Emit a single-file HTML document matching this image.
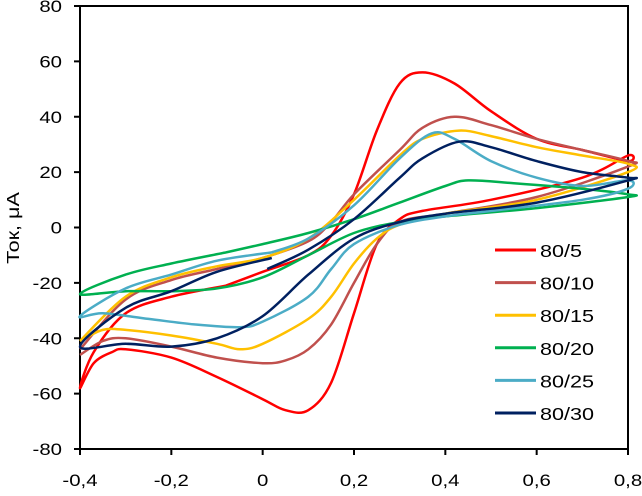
<!DOCTYPE html>
<html><head><meta charset="utf-8"><style>
body{margin:0;background:#fff}
svg text{font-family:"Liberation Sans",Arial,sans-serif;font-size:17px;fill:#000}
</style></head><body>
<svg id="chart" width="642" height="491" viewBox="0 0 642 491">
<rect x="80" y="6" width="548" height="443" fill="none" stroke="#000" stroke-width="2"/>
<g id="axes"></g>
<g id="series"></g>
<g id="legend"></g>
<text transform="translate(19,228) rotate(-90) scale(1.2,1)" text-anchor="middle" style="font-size:18px">Ток, μA</text>
</svg>
<script>
const xTicks=[-0.4,-0.2,0,0.2,0.4,0.6,0.8];
const xTickLabels=["-0,4","-0,2","0","0,2","0,4","0,6","0,8"];
const yTicks=[80,60,40,20,0,-20,-40,-60,-80];
const seriesNames=["80/5","80/10","80/15","80/20","80/25","80/30"];
const seriesColors=["#ff0000","#c0504d","#ffc000","#00b050","#4bacc6","#002060"];
const s805=[[-0.08,-21],[-0.2,-25],[-0.3,-31],[-0.37,-45],[-0.4,-58],[-0.37,-49],[-0.33,-45],[-0.3,-44],[-0.2,-47],[-0.1,-54],[0,-62],[0.05,-66],[0.1,-66],[0.15,-56],[0.2,-31],[0.25,-6],[0.3,3],[0.35,6],[0.5,10],[0.7,18],[0.8,26],[0.8,24],[0.7,28],[0.6,32],[0.5,42],[0.42,52],[0.35,56],[0.3,52],[0.25,35],[0.2,12],[0.15,-3],[0.1,-10],[0,-16],[-0.08,-21]];
const s8010=[[-0.4,-46],[-0.35,-41],[-0.3,-40],[-0.2,-43],[-0.1,-47],[0,-49],[0.05,-48],[0.1,-44],[0.15,-35],[0.2,-20],[0.25,-6],[0.3,2],[0.4,5],[0.6,11],[0.8,22],[0.8,24],[0.7,28],[0.6,32],[0.5,37],[0.42,40],[0.35,36],[0.3,28],[0.2,12],[0.15,2],[0.1,-5],[0,-11],[-0.1,-15],[-0.2,-19],[-0.3,-26],[-0.4,-44]];
const s8015=[[-0.4,-41],[-0.35,-37],[-0.3,-37],[-0.2,-39],[-0.1,-42],[-0.05,-44],[0,-42],[0.1,-33],[0.15,-25],[0.2,-13],[0.25,-4],[0.3,1],[0.4,5],[0.6,10],[0.8,20],[0.8,23],[0.7,26],[0.6,29],[0.5,33],[0.43,35],[0.35,32],[0.3,26],[0.2,10],[0.1,-4],[0,-11],[-0.1,-14],[-0.2,-18],[-0.3,-25],[-0.4,-41]];
const s8020=[[-0.08,-9],[-0.2,-13],[-0.3,-17],[-0.4,-24],[-0.3,-23],[-0.2,-23],[-0.1,-22],[0,-18],[0.1,-10],[0.2,-2],[0.3,2],[0.4,4],[0.6,7],[0.8,11],[0.8,12],[0.7,14],[0.55,16],[0.45,17],[0.4,15],[0.3,9],[0.2,3],[0.1,-2],[0,-6],[-0.08,-9]];
const s8025=[[0.02,-9],[-0.1,-12],[-0.2,-17],[-0.3,-22],[-0.4,-32],[-0.35,-31],[-0.25,-33],[-0.15,-35],[-0.05,-36],[0,-34],[0.1,-25],[0.15,-15],[0.2,-6],[0.3,1],[0.4,4],[0.5,6],[0.7,10],[0.8,14],[0.8,17],[0.7,15],[0.6,18],[0.5,24],[0.42,32],[0.37,34],[0.3,25],[0.2,8],[0.1,-4],[0.02,-9]];
const s8030=[[0.02,-11],[-0.1,-16],[-0.2,-23],[-0.3,-29],[-0.4,-43],[-0.3,-42],[-0.2,-43],[-0.1,-40],[0,-32],[0.1,-17],[0.2,-4],[0.3,2],[0.4,5],[0.6,9],[0.8,17],[0.8,18],[0.7,20],[0.6,24],[0.5,29],[0.43,31],[0.35,25],[0.3,18],[0.2,3],[0.1,-8],[0.01,-15]];
const allSeries=[s805,s8010,s8015,s8020,s8025,s8030];

const X0=80,X1=628,Y0=449,Y1=6;
function xs(v){return X0+(v+0.4)/1.2*(X1-X0);}
function ys(v){return Y0-(v+80)/160*(Y0-Y1);}
const NS="http://www.w3.org/2000/svg";
const axes=document.getElementById('axes');
function mk(tag,attrs,parent){const e=document.createElementNS(NS,tag);for(const k in attrs)e.setAttribute(k,attrs[k]);parent.appendChild(e);return e;}
function stretchText(el,x,y){el.setAttribute('transform','translate('+x+','+y+') scale(1.2,1)');}
xTicks.forEach((t,i)=>{
  const l=mk('line',{x1:xs(t),x2:xs(t),y1:Y0,y2:Y0+6,stroke:'#000','stroke-width':2},axes);
  
  
  const tx=mk('text',{x:0,y:0,'text-anchor':'middle'},axes);
  stretchText(tx,xs(t),486);
  tx.textContent=xTickLabels[i];
  
  
});
yTicks.forEach(t=>{
  const l=mk('line',{x1:X0-6,x2:X0,y1:ys(t),y2:ys(t),stroke:'#000','stroke-width':2},axes);
  
  
  const tx=mk('text',{x:0,y:0,'text-anchor':'end'},axes);
  stretchText(tx,62,ys(t)+6);
  tx.textContent=String(t);
  
  
});
function smooth(pts){
  const p=pts.map(d=>[xs(d[0]),ys(d[1])]);
  let s='M'+p[0][0].toFixed(1)+','+p[0][1].toFixed(1);
  for(let i=0;i<p.length-1;i++){
    const a=p[Math.max(i-1,0)],b=p[i],c=p[i+1],d=p[Math.min(i+2,p.length-1)];
    const c1=[b[0]+(c[0]-a[0])/6,b[1]+(c[1]-a[1])/6],c2=[c[0]-(d[0]-b[0])/6,c[1]-(d[1]-b[1])/6];
    s+=' C'+c1.map(v=>v.toFixed(1))+' '+c2.map(v=>v.toFixed(1))+' '+c.map(v=>v.toFixed(1));
  }
  return s;
}
const sg=document.getElementById('series');
allSeries.forEach((pts,i)=>{
  const path=mk('path',{d:smooth(pts),fill:'none',stroke:seriesColors[i],'stroke-width':2.5,'stroke-linejoin':'round'},sg);
  
  
});
const lg=document.getElementById('legend');
seriesNames.forEach((n,i)=>{
  const y=250+i*32.6;
  const g=mk('g',{},lg);
  
  
  mk('line',{x1:495,x2:536,y1:y,y2:y,stroke:seriesColors[i],'stroke-width':3},g);
  const t=mk('text',{x:0,y:0},g);
  t.setAttribute('transform','translate(540,'+(y+7)+') scale(1.2,1)');
  t.style.fontSize='18px';
  t.textContent=n;
});
</script>
</body></html>
